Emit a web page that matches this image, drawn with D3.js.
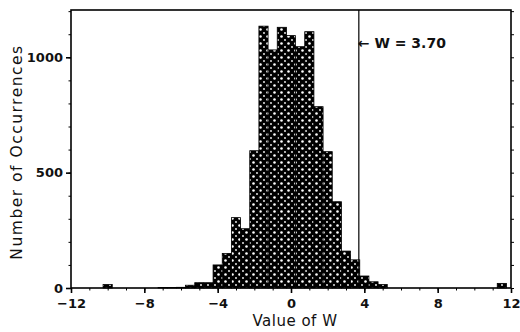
<!DOCTYPE html>
<html>
<head>
<meta charset="utf-8">
<script src="https://cdn.jsdelivr.net/npm/d3@7"></script>
<style>
  body { margin: 0; background: #fff; }
  svg text { font-family: "DejaVu Sans", sans-serif; fill: #111; }
</style>
</head>
<body>
<div id="chart"></div>
<script>
// середины интервалов (ширина 0.5) и число попаданий
let binMids = [-10, -7, -6.5, -6, -5.5, -5, -4.5, -4, -3.5, -3, -2.5, -2, -1.5, -1, -0.5, 0, 0.5, 1, 1.5, 2, 2.5, 3, 3.5, 4, 4.5, 5, 11.5];
let counts  = [15, 2, 2, 3, 12, 23, 23, 100, 150, 305, 257, 595, 1135, 1032, 1130, 1094, 1046, 1111, 786, 591, 374, 160, 122, 52, 27, 15, 20];
let xTicks = [-12, -8, -4, 0, 4, 8, 12];
let yTicks = [0, 500, 1000];
let wValue = 3.70;
let binW = 0.5;

let width = 520, height = 332;
let plotL = 71, plotR = 511, plotT = 10, plotB = 288;

let svg = d3.select('#chart').append('svg')
  .attr('width', width)
  .attr('height', height);

// штриховка: чёрный фон с белыми точками
let pat = svg.append('defs').append('pattern')
  .attr('id', 'dots')
  .attr('patternUnits', 'userSpaceOnUse')
  .attr('width', 7).attr('height', 7);
pat.append('rect').attr('width', 7).attr('height', 7).attr('fill', '#000');
pat.append('circle').attr('cx', 1.5).attr('cy', 1.5).attr('r', 1.3).attr('fill', '#fff');
pat.append('circle').attr('cx', 5).attr('cy', 5).attr('r', 0.9).attr('fill', '#fff');

let x = d3.scaleLinear().domain([-12, 12]).range([plotL, plotR]);
let y = d3.scaleLinear().domain([0, 1205]).range([plotB, plotT]);

// столбики
svg.append('g').selectAll('rect')
  .data(binMids)
  .join('rect')
  .attr('x', (d) => x(d - binW / 2))
  .attr('width', (d) => x(d + binW / 2) - x(d - binW / 2))
  .attr('y', (d, i) => y(counts[i]))
  .attr('height', (d, i) => y(0) - y(counts[i]))
  .attr('fill', 'url(#dots)')
  .attr('stroke', '#000')
  .attr('stroke-width', 0.8);

// рамка
svg.append('rect')
  .attr('x', plotL).attr('y', plotT)
  .attr('width', plotR - plotL).attr('height', plotB - plotT)
  .attr('fill', 'none').attr('stroke', '#000').attr('stroke-width', 1.6);

// ось X
let xAxis = svg.append('g').attr('transform', `translate(0,${plotB})`)
  .call(d3.axisBottom(x).tickValues(xTicks).tickSize(5)
    .tickFormat((d) => d < 0 ? '\u2212' + Math.abs(d) : d));
xAxis.select('.domain').remove();
xAxis.selectAll('line').attr('stroke-width', 1.6);
xAxis.selectAll('text').attr('font-size', 13).attr('font-weight', 'bold').attr('dy', '0.9em');

let xMinor = svg.append('g').attr('transform', `translate(0,${plotB})`)
  .call(d3.axisBottom(x).tickValues(d3.range(-12, 13, 1)).tickSize(2.5).tickFormat(''));
xMinor.select('.domain').remove();

// ось Y
let yAxis = svg.append('g').attr('transform', `translate(${plotL},0)`)
  .call(d3.axisLeft(y).tickValues(yTicks).tickSize(5).tickFormat(d3.format('d')));
yAxis.select('.domain').remove();
yAxis.selectAll('line').attr('stroke-width', 1.6);
yAxis.selectAll('text').attr('font-size', 13).attr('font-weight', 'bold');

let yMinor = svg.append('g').attr('transform', `translate(${plotL},0)`)
  .call(d3.axisLeft(y).tickValues(d3.range(0, 1201, 100)).tickSize(2.5).tickFormat(''));
yMinor.select('.domain').remove();

let yRight = svg.append('g').attr('transform', `translate(${plotR},0)`)
  .call(d3.axisRight(y).tickValues(d3.range(0, 1201, 100)).tickSize(3).tickFormat(''));
yRight.select('.domain').remove();

// линия W = 3.70
svg.append('line')
  .attr('x1', x(wValue)).attr('x2', x(wValue))
  .attr('y1', plotT).attr('y2', plotB)
  .attr('stroke', '#000').attr('stroke-width', 1.2);

svg.append('text')
  .attr('x', x(wValue) - 1).attr('y', 48)
  .attr('font-size', 14)
  .attr('font-weight', 'bold')
  .text('\u2190 W = 3.70');

// подписи осей
svg.append('text')
  .attr('x', (plotL + plotR) / 2 + 4).attr('y', 326)
  .attr('text-anchor', 'middle')
  .attr('font-size', 15)
  .attr('letter-spacing', 0.5)
  .text('Value of W');

svg.append('text')
  .attr('transform', `translate(22,${(plotT + plotB) / 2 + 3}) rotate(-90)`)
  .attr('text-anchor', 'middle')
  .attr('font-size', 15.5)
  .attr('letter-spacing', 1.5)
  .text('Number of Occurrences');
</script>
</body>
</html>
